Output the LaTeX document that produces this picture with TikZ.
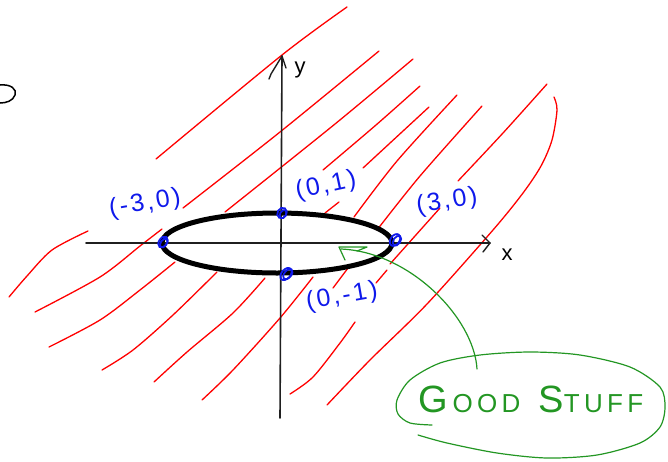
\documentclass[tikz,border=0pt]{standalone}
\usepackage{fontspec}
\setmainfont{Liberation Sans}
\definecolor{hatchred}{RGB}{255,0,0}
\definecolor{inkblue}{RGB}{15,25,235}
\definecolor{inkgreen}{RGB}{35,150,35}
\newcommand\spk{\kern2.5pt}
\begin{document}
\begin{tikzpicture}[x=1pt,y=-1pt,
  hatch/.style={hatchred, line width=1.3pt, line cap=round, line join=round},
  axisline/.style={black!88, line width=1.6pt, line cap=round, line join=round},
  bigcurve/.style={black, line width=5pt},
  bluept/.style={inkblue, line width=1.8pt},
  bluelabel/.style={inkblue, font=\fontsize{25}{25}\selectfont, inner sep=0pt},
  axislabel/.style={black, font=\fontsize{22}{22}\selectfont, inner sep=0pt},
  greenink/.style={inkgreen, line width=1.2pt, line cap=round, line join=round},
]
\useasboundingbox (0,0) rectangle (668,461);

% ---------------- red hatching ----------------
\draw[hatch] plot[smooth] coordinates {(156,159) (282,55) (347,7)};
\draw[hatch] plot[smooth] coordinates {(183,208) (280,132) (379,51)};
\draw[hatch] plot[smooth] coordinates {(225,212) (335,124) (413,59)};
\draw[hatch] plot[smooth] coordinates {(323,170) (376,125) (420,86)};
\draw[hatch] (363,168) -- (429,107);
\draw[hatch] plot[smooth] coordinates {(354,217) (397,161) (457,95)};
\draw[hatch] plot[smooth] coordinates {(377,230) (420,176) (482,106)};
\draw[hatch] plot[smooth] coordinates {(458,181) (503,133) (547,84)};
\draw[hatch] (390,264) -- (440,208);
\draw[hatch] (376,283) -- (387,270);
\draw[hatch] plot[smooth] coordinates {(554,97) (557,110) (552,140) (541,166) (523,193) (493,230) (427,304) (370,360) (327,405)};
\draw[hatch] plot[smooth] coordinates {(9,297) (27,276) (52,250) (88,231)};
\draw[hatch] plot[smooth] coordinates {(35,312) (100,277) (140,246) (162,229)};
\draw[hatch] plot[smooth] coordinates {(49,347) (100,320) (140,290) (175,262)};
\draw[hatch] plot[smooth] coordinates {(102,370) (133,350) (173,315) (217,272)};
\draw[hatch] plot[smooth] coordinates {(154,382) (187,352) (233,313) (265,278)};
\draw[hatch] plot[smooth] coordinates {(202,400) (233,370) (280,318) (313,277)};
\draw[hatch] plot[smooth] coordinates {(290,394) (313,377) (340,343) (355,322)};
\draw[hatch] (333,288) -- (348,268);
\draw[hatch] (325,213) -- (339,202);

% ---------------- fragment at left edge ----------------
\draw[black, line width=1.5pt] (0,85) .. controls (11,84) and (17,89) .. (15,95) .. controls (13,101) and (6,103) .. (0,103);

% ---------------- axes ----------------
\coordinate (xl) at (86,243);
\coordinate (xr) at (490,243);
\coordinate (yb) at (280,418);
\coordinate (yt) at (282,56);
\draw[axisline] (xl) -- (xr);
\draw[axisline] (yb) -- (yt);
\draw[axisline, line width=1.4pt] (482,235) -- (xr) -- (483,252);
\draw[axisline, line width=1.4pt] (269,79) -- (271,74) -- (yt) -- (286,68);
\node[axislabel] (xlab) at (507,255) {x};
\node[axislabel] (ylab) at (300,70) {y};

% ---------------- ellipse ----------------
\coordinate (ctr) at (277,243);
\draw[bigcurve] (ctr) ellipse [x radius=115pt, y radius=30pt];

% ---------------- blue points ----------------
\begin{scope}[shift={(163,242)},rotate=-35]
  \draw[bluept] (0,0) ellipse [x radius=4pt, y radius=6pt];
  \draw[bluept] (1.2,0.5) ellipse [x radius=3pt, y radius=5pt];
\end{scope}
\begin{scope}[shift={(282,213)},rotate=-30]
  \draw[bluept] (0,0) ellipse [x radius=4.5pt, y radius=5.5pt];
  \draw[bluept] (1.5,0.5) ellipse [x radius=3pt, y radius=4.5pt];
\end{scope}
\begin{scope}[shift={(286,274)},rotate=-40]
  \draw[bluept] (0,0) ellipse [x radius=4.5pt, y radius=7pt];
  \draw[bluept] (1.5,-1) ellipse [x radius=3.5pt, y radius=6pt];
\end{scope}
\begin{scope}[shift={(395,240)},rotate=-35]
  \draw[bluept] (0,0) ellipse [x radius=4.5pt, y radius=6.5pt];
  \draw[bluept] (2,-0.5) ellipse [x radius=3.5pt, y radius=5.5pt];
\end{scope}

% ---------------- blue labels ----------------
\node[bluelabel, rotate=10] (lm30) at (145,204) {(\spk-\spk3\spk,\spk0\spk)};
\node[bluelabel, rotate=12] (l01) at (326,186) {(\spk0\spk,\spk1\spk)};
\node[bluelabel, rotate=10] (l30) at (447,202) {(\spk3\spk,\spk0\spk)};
\node[bluelabel, rotate=10] (l0m1) at (342,297) {(\spk0\spk,\spk-\spk1\spk)};

% ---------------- green note ----------------
\node[inkgreen, inner sep=0pt, anchor=base] (gs) at (531,412)
  {{\fontsize{38}{38}\selectfont G}{\fontsize{26}{26}\selectfont\,O\,O\,D}\hspace{18pt}{\fontsize{38}{38}\selectfont S}{\fontsize{26}{26}\selectfont T\,U\,F\,F}};
\draw[greenink] plot[smooth] coordinates {(432,425) (410,423) (398,414) (397,400) (410,380) (440,363) (480,355) (530,352) (580,355) (630,367) (660,387) (665,407) (660,427) (640,443) (597,455) (547,458) (497,453) (447,443) (418,435)};
\coordinate (astart) at (477,369);
\coordinate (atip) at (339,247);
\draw[greenink] (astart) .. controls (474,318) and (410,252) .. (341,249);
\draw[greenink] (357,251) -- (367,247) -- (atip) -- (345,260);
\end{tikzpicture}
\end{document}
